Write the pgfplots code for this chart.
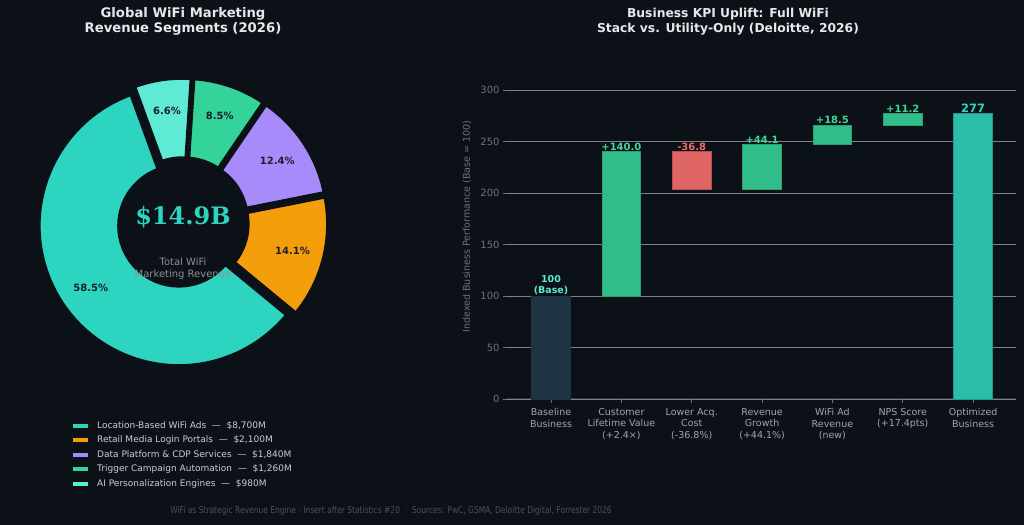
\documentclass[border=0pt]{standalone}
\usepackage{pgfplots}
\pgfplotsset{compat=1.18}
\usepackage{fontspec}
\setmainfont{DejaVu Sans}
\newfontfamily\seriffont{DejaVu Serif}
\newfontfamily\condfont{DejaVu Sans}[FakeStretch=0.8]
\definecolor{bg}{HTML}{0C1017}
\definecolor{titlecol}{HTML}{E6E8EC}
\definecolor{cteal}{HTML}{2DD4BF}
\definecolor{corange}{HTML}{F59E0B}
\definecolor{cpurple}{HTML}{A78BFA}
\definecolor{cgreen}{HTML}{34D399}
\definecolor{clteal}{HTML}{5EEAD4}
\definecolor{barbase}{HTML}{1E3445}
\definecolor{bargreen}{HTML}{31BD89}
\definecolor{bargreenedge}{HTML}{2A9E74}
\definecolor{barred}{HTML}{E06666}
\definecolor{barrededge}{HTML}{B85050}
\definecolor{barteal}{HTML}{2BBDAA}
\definecolor{labgreen}{HTML}{3DD99B}
\definecolor{labred}{HTML}{EE6B6B}
\definecolor{gridcol}{HTML}{7E838B}
\definecolor{tickcol}{HTML}{6B7280}
\definecolor{xlabcol}{HTML}{A0A6AF}
\definecolor{footcol}{HTML}{4A515C}
\definecolor{legtext}{HTML}{C9CED6}
\definecolor{pielab}{HTML}{1A1F2B}
\definecolor{spinecol}{HTML}{2E3540}
\definecolor{holetext}{HTML}{8A9099}

% pie geometry (bp = px)
\def\pieR{140}
\def\pier{60}
\def\pied{5}
\def\piel{113}
\newcommand{\pieslice}[4]{% start, end, color, label
  \pgfmathsetmacro\pmid{(#1+#2)/2}%
  \pgfmathsetmacro\pcx{\pied*cos(\pmid)}%
  \pgfmathsetmacro\pcy{\pied*sin(\pmid)}%
  \pgfmathsetmacro\pxa{\pcx+\pieR*cos(#1)}%
  \pgfmathsetmacro\pya{\pcy+\pieR*sin(#1)}%
  \pgfmathsetmacro\pxb{\pcx+\pier*cos(#2)}%
  \pgfmathsetmacro\pyb{\pcy+\pier*sin(#2)}%
  \pgfmathsetmacro\pxl{\piel*cos(\pmid)}%
  \pgfmathsetmacro\pyl{\piel*sin(\pmid)}%
  \edef\ptmp{\noexpand\fill[#3, draw=bg, line width=3.5bp] (axis cs:\pxa,\pya) arc[start angle=#1, end angle=#2, radius=\pieR bp] -- (axis cs:\pxb,\pyb) arc[start angle=#2, end angle=#1, radius=\pier bp] -- cycle;
  \noexpand\node[text=pielab, font=\noexpand\fontsize{10bp}{12bp}\noexpand\selectfont\noexpand\bfseries] at (axis cs:\pxl,\pyl) {#4};}%
  \ptmp
}

\begin{document}
\begin{tikzpicture}[x=1bp,y=1bp]
\fill[bg] (0,0) rectangle (1024,525);
\useasboundingbox (0,0) rectangle (1024,525);

% ---------- data for pie (USD M) ----------
\def\vA{8700}\def\vB{2100}\def\vC{1840}\def\vD{1260}\def\vE{980}
\pgfmathsetmacro\vT{\vA+\vB+\vC+\vD+\vE}
\pgfmathsetmacro\aA{110}
\pgfmathsetmacro\aB{\aA+360*(\vA/\vT)}
\pgfmathsetmacro\aC{\aB+360*(\vB/\vT)}
\pgfmathsetmacro\aD{\aC+360*(\vC/\vT)}
\pgfmathsetmacro\aE{\aD+360*(\vD/\vT)}
\pgfmathsetmacro\aF{\aE+360*(\vE/\vT)}

\begin{axis}[at={(183bp,302bp)}, anchor=origin, scale only axis,
  width=300bp, height=300bp, xmin=-150, xmax=150, ymin=-150, ymax=150,
  hide axis, clip=false]
\addplot[draw=none] coordinates {(0,0)};
\pieslice{\aA}{\aB}{cteal}{58.5\%}
\pieslice{\aB}{\aC}{corange}{14.1\%}
\pieslice{\aC}{\aD}{cpurple}{12.4\%}
\pieslice{\aD}{\aE}{cgreen}{8.5\%}
\pieslice{\aE}{\aF}{clteal}{6.6\%}
\node[text=cteal, font=\fontsize{24bp}{28bp}\selectfont\seriffont\bfseries] at (axis cs:0,6) {\$14.9B};
\node[text=holetext, font=\fontsize{10bp}{12bp}\selectfont] at (axis cs:0,-39) {Total WiFi};
\node[text=holetext, font=\fontsize{10bp}{12bp}\selectfont] at (axis cs:0,-52) {Marketing Revenue};
\end{axis}

% legend
\foreach \c/\t [count=\i] in {cteal/{Location-Based WiFi Ads~~—~~\$8,700M},
  corange/{Retail Media Login Portals~~—~~\$2,100M},
  cpurple/{Data Platform \& CDP Services~~—~~\$1,840M},
  cgreen/{Trigger Campaign Automation~~—~~\$1,260M},
  clteal/{AI Personalization Engines~~—~~\$980M}}{
  \pgfmathsetmacro\yy{99-14.4*(\i-1)}
  \fill[\c] (73,\yy-2) rectangle (88,\yy+2);
  \node[anchor=west, text=legtext, font=\fontsize{9bp}{11bp}\selectfont, inner sep=0pt] at (97,\yy) {\t};
}

% titles
\node[text=titlecol, font=\fontsize{13.2bp}{15bp}\selectfont\bfseries, align=center] at (183,503.5) {Global WiFi Marketing\\Revenue Segments (2026)};
\node[text=titlecol, font=\fontsize{12.3bp}{15bp}\selectfont\bfseries, align=center] at (728,503.5) {Business KPI Uplift: Full WiFi\\Stack vs. Utility-Only (Deloitte, 2026)};

% footer
\node[text=footcol, font=\fontsize{9.4bp}{11bp}\selectfont\condfont] at (391,14) {WiFi as Strategic Revenue Engine · Insert after Statistics \#20 ~·~ Sources: PwC, GSMA, Deloitte Digital, Forrester 2026};

% ---------- waterfall ----------
\begin{axis}[at={(551.03bp,126bp)}, anchor=origin, scale only axis,
  width=509bp, height=345bp,
  xmin=-0.626, xmax=6.61, ymin=0, ymax=335,
  separate axis lines,
  axis x line*=bottom, axis y line*=left,
  x axis line style={draw=spinecol, line width=1bp, -},
  y axis line style={draw=none},
  xtick={0,...,6}, ytick={0,50,...,300},
  xtick pos=bottom, ytick pos=left, tick align=outside,
  major tick length=4bp,
  tick style={color=tickcol, line width=0.8bp},
  ymajorgrids, grid style={draw=gridcol, line width=0.9bp},
  /pgf/number format/assume math mode=true,
  yticklabel style={text=tickcol, font=\fontsize{10bp}{12bp}\selectfont},
  xticklabel style={text=xlabcol, font=\fontsize{9.5bp}{11.3bp}\selectfont, align=center, yshift=-2bp},
  xticklabels={{Baseline\\Business},{Customer\\Lifetime Value\\(+2.4×)},{Lower Acq.\\Cost\\(-36.8\%)},{Revenue\\Growth\\(+44.1\%)},{WiFi Ad\\Revenue\\(new)},{NPS Score\\(+17.4pts)},{Optimized\\Business}},
  every axis y label/.style={at={(axis description cs:-0.0786,0.5)}, rotate=90, anchor=center},
  ylabel={Indexed Business Performance (Base = 100)},
  ylabel style={text=tickcol, font=\fontsize{9.5bp}{11bp}\selectfont},
  clip=false]
\addplot[fill=barbase, draw=barbase, line width=0.8bp] coordinates {(-0.275,0) (0.275,0) (0.275,100) (-0.275,100)} -- cycle;
\addplot[fill=bargreen, draw=bargreenedge, line width=0.8bp] coordinates {(0.725,100) (1.275,100) (1.275,240) (0.725,240)} -- cycle;
\addplot[fill=barred, draw=barrededge, line width=0.8bp] coordinates {(1.725,203.2) (2.275,203.2) (2.275,240) (1.725,240)} -- cycle;
\addplot[fill=bargreen, draw=bargreenedge, line width=0.8bp] coordinates {(2.725,203.2) (3.275,203.2) (3.275,247.3) (2.725,247.3)} -- cycle;
\addplot[fill=bargreen, draw=bargreenedge, line width=0.8bp] coordinates {(3.725,247.3) (4.275,247.3) (4.275,265.8) (3.725,265.8)} -- cycle;
\addplot[fill=bargreen, draw=bargreenedge, line width=0.8bp] coordinates {(4.725,265.8) (5.275,265.8) (5.275,277) (4.725,277)} -- cycle;
\addplot[fill=barteal, draw=barteal!80!black, line width=0.8bp] coordinates {(5.725,0) (6.275,0) (6.275,277) (5.725,277)} -- cycle;

\node[anchor=south, inner sep=1.2bp, align=center, text=clteal, font=\fontsize{9.5bp}{11bp}\selectfont\bfseries] at (axis cs:0,100) {100\\(Base)};
\node[anchor=south, inner sep=1.2bp, text=labgreen, font=\fontsize{10bp}{12bp}\selectfont\bfseries] at (axis cs:1,240) {+140.0};
\node[anchor=south, inner sep=1.2bp, text=labred, font=\fontsize{10bp}{12bp}\selectfont\bfseries] at (axis cs:2,240) {-36.8};
\node[anchor=south, inner sep=0.2bp, text=labgreen, font=\fontsize{10bp}{12bp}\selectfont\bfseries] at (axis cs:3,247.3) {+44.1};
\node[anchor=south, inner sep=1.2bp, text=labgreen, font=\fontsize{10bp}{12bp}\selectfont\bfseries] at (axis cs:4,265.8) {+18.5};
\node[anchor=south, inner sep=1.2bp, text=labgreen, font=\fontsize{10bp}{12bp}\selectfont\bfseries] at (axis cs:5,277) {+11.2};
\node[anchor=south, inner sep=1.2bp, text=cteal, font=\fontsize{11.5bp}{13bp}\selectfont\bfseries] at (axis cs:6,277) {277};
\end{axis}
\end{tikzpicture}
\end{document}
